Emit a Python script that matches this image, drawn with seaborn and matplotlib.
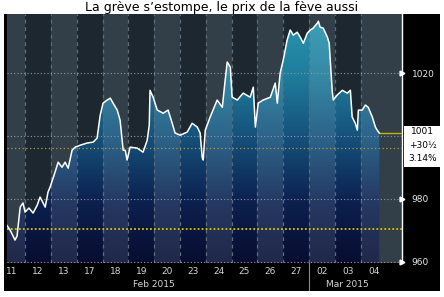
import numpy as np
import pandas as pd
import matplotlib
matplotlib.use("Agg")
import matplotlib.pyplot as plt
import seaborn as sns
from matplotlib.patches import Rectangle, Polygon
from matplotlib.colors import LinearSegmentedColormap

# ---- data (session position in trading days since 11 Feb, price) ----
session_pos = [0.30, 0.42, 0.61, 0.69, 0.81, 0.92, 1.00, 1.15, 1.31, 1.47, 1.58, 1.70, 1.78, 1.89, 1.97,
               2.16, 2.28, 2.43, 2.55, 2.67, 2.82, 2.94, 3.13, 3.40, 3.64, 3.79, 3.91, 4.02, 4.18, 4.30,
               4.41, 4.57, 4.68, 4.80, 4.88, 4.95, 5.07, 5.34, 5.57, 5.73, 5.81, 5.84, 5.96, 6.12, 6.35,
               6.54, 6.70, 6.81, 7.01, 7.28, 7.47, 7.67, 7.78, 7.86, 7.90, 7.98, 8.17, 8.44, 8.64, 8.75,
               8.83, 8.95, 9.02, 9.22, 9.45, 9.72, 9.84, 9.92, 10.03, 10.22, 10.50, 10.69, 10.77, 10.88,
               11.00, 11.15, 11.27, 11.39, 11.54, 11.66, 11.78, 11.93, 12.05, 12.16, 12.32, 12.36, 12.43,
               12.55, 12.71, 12.78, 12.90, 12.94, 13.09, 13.29, 13.48, 13.60, 13.67, 13.79, 13.87, 13.91,
               14.06, 14.18, 14.29, 14.45, 14.57, 14.64, 14.72]
price = [971.5, 970.1, 966.9, 968.2, 977.4, 978.7, 975.8, 977.1, 975.5, 978.0, 980.6, 978.7, 977.4, 982.2, 983.8,
         988.5, 991.7, 990.1, 991.7, 989.8, 995.5, 996.5, 997.1, 997.8, 998.1, 999.4, 1006.7, 1010.5, 1011.5, 1012.1,
         1010.5, 1008.3, 1005.1, 995.5, 995.5, 992.4, 996.5, 996.2, 994.9, 998.7, 1003.5, 1014.6, 1012.4, 1008.3, 1007.3,
         1008.3, 1004.1, 1001.0, 1000.3, 1001.3, 1004.1, 1002.9, 1001.0, 993.3, 992.4, 1001.9, 1006.1, 1011.5, 1009.2, 1017.8,
         1023.6, 1022.0, 1012.4, 1011.5, 1013.7, 1012.4, 1015.6, 1002.9, 1010.5, 1011.5, 1012.4, 1016.9, 1010.5, 1020.1,
         1024.2, 1030.6, 1033.8, 1032.2, 1033.1, 1031.5, 1029.6, 1032.8, 1033.8, 1034.4, 1036.0, 1036.6, 1034.7,
         1034.4, 1031.5, 1029.6, 1014.0, 1011.5, 1013.1, 1014.6, 1013.7, 1014.6, 1006.1, 1004.1, 1001.9, 1008.3,
         1008.3, 1009.9, 1009.2, 1006.1, 1002.9, 1001.9, 1001.0]
day_labels = ["11", "12", "13", "17", "18", "19", "20", "23", "24", "25", "26", "27", "02", "03", "04"]
month_labels = ["Feb 2015", "Mar 2015"]
month_days = [12, 3]
y_ticks = [960, 980, 1020]
grid_levels = [960, 980, 1000, 1020]
last_price = 1001
change_txt = "+30½"
pct_txt = "3.14%"
prev_close = 970.5
ref_level = 996.2
title = "La grève s’estompe, le prix de la fève aussi"

df = pd.DataFrame({"t": session_pos, "price": price})

W, H = 444, 297
fig = plt.figure(figsize=(W / 100, H / 100), dpi=100)
fig.patch.set_facecolor("white")
fig.add_artist(Rectangle((4 / W, 1 - 291 / H), 436 / W, (291 - 14) / H,
                         transform=fig.transFigure, facecolor="black", edgecolor="none", zorder=-1))
ax = fig.add_axes([7 / W, 1 - 263 / H, 395 / W, 249 / H])
ax.set_facecolor("#1c2730")

x0, x1 = 0.30, 15.6
y0, y1 = 959.6, 1038.9

# background day bands
n = len(day_labels)
for i in range(n):
    a = max(i, x0)
    b = i + 1 if i < n - 1 else x1
    ax.axvspan(a, b, color="#1c2730", lw=0, zorder=0)

# gradient fill under line
cmap = LinearSegmentedColormap.from_list("g", ["#080c30", "#0c2150", "#15507a", "#1f7c9a", "#2a98b2"])
grad = np.linspace(0, 1, 256).reshape(-1, 1)
im = ax.imshow(grad, extent=[x0, x1, y0, y1], origin="lower", cmap=cmap, aspect="auto", zorder=1)
verts = [(df.t.iloc[0], y0)] + list(zip(df.t, df.price)) + [(df.t.iloc[-1], y0)]
clip = Polygon(verts, closed=True, transform=ax.transData, facecolor="none", edgecolor="none")
ax.add_patch(clip)
im.set_clip_path(clip)

# lighter alternate bands overlay
for i in range(0, n, 2):
    a = max(i, x0)
    b = i + 1 if i < n - 1 else x1
    ax.axvspan(a, b, color="#cfe3f0", alpha=0.13, lw=0, zorder=2)

# vertical dashed day separators
for i in range(1, n):
    ax.axvline(i, color="#5e6b78", ls=(0, (3, 3)), lw=0.9, zorder=3)

# horizontal dotted grid
for g in grid_levels:
    ax.axhline(g, color="#8d99a3", ls=(0, (1, 2)), lw=0.8, zorder=3)

ax.axhline(prev_close, color="#d8c400", ls=(0, (1, 1.2)), lw=1.3, zorder=4)
ax.axhline(ref_level, color="#a89a40", ls=(0, (1, 2)), lw=0.9, zorder=4)
ax.hlines(last_price, df.t.iloc[-1], x1, color="#c8b400", lw=1.0, zorder=4)

sns.lineplot(data=df, x="t", y="price", ax=ax, color="white", lw=1.1, zorder=5, sort=False)

ax.set_xlim(x0, x1)
ax.set_ylim(y0, y1)
ax.set_xlabel("")
ax.set_ylabel("")

for s in ["left", "top", "bottom"]:
    ax.spines[s].set_visible(False)
ax.spines["right"].set_color("white")
ax.spines["right"].set_linewidth(1.0)

ax.yaxis.tick_right()
ax.set_yticks(y_ticks)
ax.set_yticklabels([str(v) for v in y_ticks])
ax.tick_params(axis="y", length=0, pad=7, labelsize=6.5, labelcolor="#e6e6e6")
for v in y_ticks:
    ax.plot([1.0], [v], marker=">", ms=3.5, color="white", transform=ax.get_yaxis_transform(), clip_on=False, zorder=6)

ax.set_xticks([i + 0.5 for i in range(n)])
ax.set_xticklabels(day_labels)
ax.tick_params(axis="x", length=0, pad=3, labelsize=6.5, labelcolor="#d6d6d6")

# month labels
start = 0
for lab, cnt in zip(month_labels, month_days):
    ax.text(start + cnt / 2, -0.085, lab, transform=ax.get_xaxis_transform(), ha="center", va="center",
            fontsize=6.5, color="#d6d6d6")
    start += cnt
ax.plot([12, 12], [0, -0.11], transform=ax.get_xaxis_transform(), color="#8a8a8a", lw=0.8, clip_on=False)

# last price box
box = Polygon([(1.005, 0.550), (1.096, 0.550), (1.096, 0.386), (1.005, 0.386)],
              closed=True, transform=ax.transAxes, facecolor="white", edgecolor="none", clip_on=False, zorder=7)
ax.add_patch(box)
ax.text(1.052, 0.530, str(last_price), transform=ax.transAxes, ha="center", va="center", fontsize=6.5, color="black", zorder=8)
ax.text(1.052, 0.470, change_txt, transform=ax.transAxes, ha="center", va="center", fontsize=6.5, color="black", zorder=8)
ax.text(1.052, 0.418, pct_txt, transform=ax.transAxes, ha="center", va="center", fontsize=6.5, color="black", zorder=8)

fig.text(0.5, 1 - 8 / H, title, ha="center", va="center", fontsize=9, color="black")

fig.savefig("out.png", dpi=100)
